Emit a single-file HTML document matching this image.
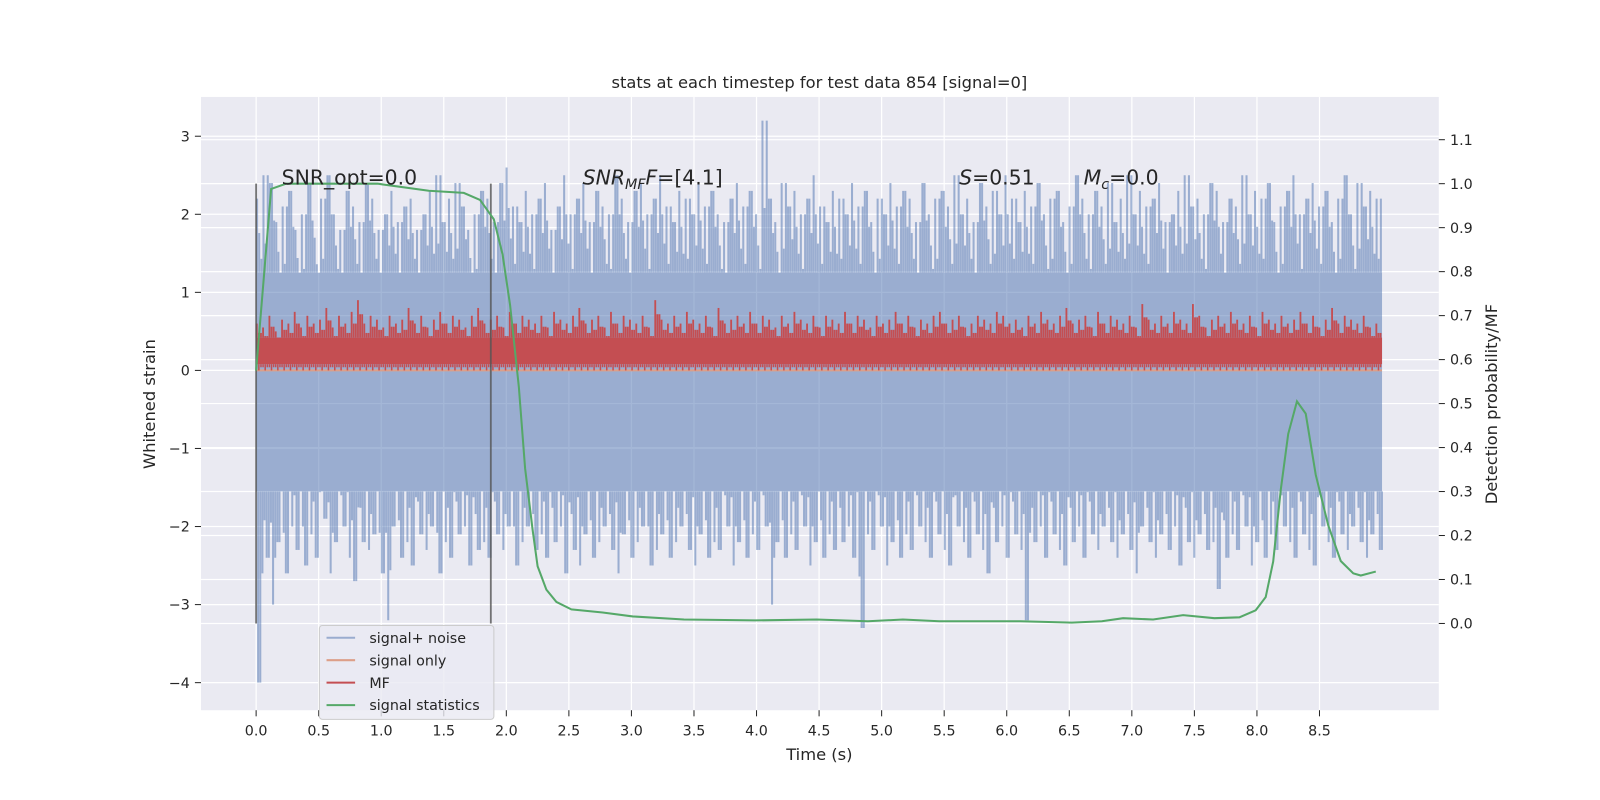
<!DOCTYPE html>
<html><head><meta charset="utf-8"><style>
html,body{margin:0;padding:0;width:100vw;height:100vh;overflow:hidden;background:#fff;font-family:"Liberation Sans","DejaVu Sans",sans-serif}
svg{display:block;position:absolute;left:0;top:0;width:100vw;height:100vh}
svg text{font-family:"DejaVu Sans","Liberation Sans",sans-serif;fill:#262626}
</style></head><body>
<svg id="c" viewBox="0 0 1568 784" preserveAspectRatio="none"></svg>
<script>
const noiseMax=[2.2,2.5,2.4,1.9,2.1,2.3,1.8,2.0,2.4,1.7,2.2,2.5,2.0,1.8,2.3,2.1,1.9,2.4,2.2,1.8,2.0,2.3,1.9,2.1,2.2,1.8,2.0,2.3,2.5,1.9,2.2,2.4,2.1,1.8,2.0,2.3,2.2,1.9,2.4,2.6,2.1,1.9,2.3,2.0,2.2,2.4,1.8,2.1,2.5,2.0,2.2,2.4,1.9,2.3,2.1,2.0,2.5,2.2,1.9,2.3,2.4,2.0,2.2,2.5,2.1,1.9,2.3,2.2,2.0,2.4,2.1,2.3,2.0,1.9,2.2,2.4,2.1,2.3,2.0,3.2,2.2,1.9,2.4,2.1,2.3,2.0,2.2,2.5,2.1,1.9,2.3,2.2,2.0,2.4,2.1,2.3,1.9,2.2,2.0,2.4,2.1,2.3,2.2,1.9,2.4,2.0,2.2,2.3,2.1,2.5,2.0,2.2,1.9,2.4,2.1,2.3,2.0,2.5,2.2,1.9,2.3,2.1,2.4,2.0,2.2,2.3,1.9,2.1,2.5,2.2,2.0,2.3,2.1,2.4,1.9,2.2,2.5,2.0,2.3,2.1,2.2,2.4,1.9,2.0,2.3,2.5,2.1,2.2,2.0,2.4,2.3,1.9,2.2,2.1,2.5,2.0,2.3,2.2,2.4,1.9,2.1,2.3,2.5,2.0,2.2,2.4,2.1,2.3,1.9,2.2,2.5,2.0,2.4,2.1,2.3,2.2];
const noiseMin=[-4.0,-2.4,-3.0,-2.2,-2.6,-2.0,-2.3,-2.5,-2.1,-2.4,-1.9,-2.6,-2.2,-2.0,-2.4,-2.7,-2.2,-2.3,-2.1,-2.6,-3.2,-2.0,-2.4,-2.2,-2.5,-2.1,-2.3,-2.0,-2.6,-2.2,-2.4,-2.1,-2.0,-2.5,-2.3,-2.2,-2.4,-2.1,-2.3,-2.0,-2.5,-2.2,-2.0,-2.3,-2.1,-2.4,-2.2,-2.0,-2.6,-2.3,-2.5,-2.1,-2.4,-2.2,-2.0,-2.3,-2.6,-2.1,-2.4,-2.2,-2.0,-2.5,-2.3,-2.1,-2.4,-2.2,-2.0,-2.3,-2.5,-2.1,-2.4,-2.2,-2.3,-2.0,-2.5,-2.2,-2.4,-2.1,-2.3,-2.0,-3.0,-2.2,-2.4,-2.1,-2.3,-2.0,-2.5,-2.2,-2.4,-2.1,-2.3,-2.2,-2.0,-2.4,-3.3,-2.1,-2.3,-2.0,-2.5,-2.2,-2.4,-2.1,-2.3,-2.0,-2.2,-2.4,-2.1,-2.3,-2.5,-2.0,-2.2,-2.4,-2.1,-2.3,-2.6,-2.2,-2.0,-2.4,-2.1,-2.3,-3.2,-2.2,-2.0,-2.4,-2.1,-2.3,-2.5,-2.2,-2.0,-2.4,-2.1,-2.3,-2.0,-2.2,-2.4,-2.1,-2.3,-2.6,-2.0,-2.2,-2.4,-2.1,-2.3,-2.0,-2.5,-2.2,-2.4,-2.1,-2.3,-2.2,-2.8,-2.4,-2.1,-2.3,-2.0,-2.5,-2.2,-2.4,-2.1,-2.3,-2.0,-2.2,-2.4,-2.1,-2.3,-2.5,-2.0,-2.2,-2.4,-2.1,-2.3,-2.0,-2.2,-2.4,-2.1,-2.3,-2.0,-1.8];
const noiseCoreHi=1.25, noiseCoreLo=-1.55;
const mfMax=[0.6,0.55,0.7,0.5,0.65,0.6,0.75,0.55,0.7,0.6,0.65,0.8,0.55,0.7,0.6,0.75,0.9,0.6,0.7,0.65,0.55,0.7,0.6,0.65,0.8,0.6,0.7,0.55,0.65,0.75,0.6,0.7,0.65,0.55,0.7,0.8,0.6,0.65,0.7,0.55,0.75,0.6,0.7,0.65,0.6,0.7,0.55,0.75,0.65,0.6,0.7,0.8,0.6,0.65,0.7,0.55,0.75,0.6,0.7,0.65,0.6,0.7,0.55,0.9,0.65,0.6,0.7,0.6,0.75,0.65,0.6,0.7,0.55,0.8,0.6,0.65,0.7,0.6,0.75,0.6,0.7,0.65,0.55,0.7,0.6,0.75,0.65,0.6,0.7,0.55,0.7,0.65,0.6,0.75,0.6,0.7,0.65,0.55,0.7,0.6,0.65,0.75,0.6,0.7,0.55,0.65,0.6,0.7,0.75,0.6,0.65,0.7,0.55,0.6,0.7,0.65,0.6,0.75,0.7,0.6,0.65,0.55,0.7,0.6,0.75,0.65,0.6,0.7,0.8,0.6,0.65,0.7,0.55,0.75,0.6,0.7,0.65,0.6,0.7,0.55,0.85,0.65,0.6,0.7,0.6,0.75,0.65,0.6,0.85,0.7,0.55,0.65,0.7,0.6,0.75,0.65,0.6,0.7,0.55,0.75,0.65,0.6,0.7,0.6,0.65,0.75,0.6,0.7,0.55,0.65,0.8,0.6,0.7,0.65,0.6,0.7,0.55,0.6];
const mfCoreHi=0.42, mfCoreLo=0.08;
const statT=[0,0.12,0.24,0.97,1.38,1.66,1.79,1.9,1.97,2.03,2.1,2.15,2.21,2.25,2.32,2.4,2.52,2.77,3.01,3.42,3.99,4.48,4.89,5.17,5.46,6.11,6.52,6.76,6.93,7.17,7.41,7.66,7.86,7.99,8.07,8.13,8.19,8.25,8.32,8.39,8.47,8.57,8.67,8.77,8.83,8.95];
const statP=[0.575,0.988,1.0,1.0,0.984,0.979,0.963,0.919,0.839,0.724,0.538,0.353,0.213,0.130,0.077,0.049,0.032,0.025,0.016,0.009,0.007,0.009,0.005,0.009,0.005,0.005,0.002,0.005,0.012,0.009,0.019,0.012,0.014,0.030,0.060,0.141,0.303,0.431,0.505,0.477,0.338,0.223,0.142,0.114,0.109,0.118];
const xTicks=[0,0.5,1,1.5,2,2.5,3,3.5,4,4.5,5,5.5,6,6.5,7,7.5,8,8.5];
const yTicks=[-4,-3,-2,-1,0,1,2,3];
const y2Ticks=[0,0.1,0.2,0.3,0.4,0.5,0.6,0.7,0.8,0.9,1.0,1.1];
const vLines=[0,1.876];

const NS='http://www.w3.org/2000/svg',svg=document.getElementById('c');
const X=t=>251+t*122.6, Y=v=>363-v*76.5, Y2=p=>611-p*431;
function el(tag,a,parent){const e=document.createElementNS(NS,tag);for(const k in a)e.setAttribute(k,a[k]);(parent||svg).appendChild(e);return e;}
const bg=el('rect',{x:197,y:95,width:1213,height:601,fill:'#eaeaf2'});


const grid=el('g',{stroke:'#fff','stroke-width':1.2});


xTicks.forEach(t=>el('line',{x1:X(t),x2:X(t),y1:95,y2:696},grid));
yTicks.forEach(v=>el('line',{x1:197,x2:1410,y1:Y(v),y2:Y(v)},grid));
y2Ticks.forEach(p=>el('line',{x1:197,x2:1410,y1:Y2(p),y2:Y2(p)},grid));
const ng=el('g',{stroke:'#4c72b0',fill:'#4c72b0',opacity:0.5});


const dt=9/noiseMax.length;
el('rect',{x:X(0),y:Y(noiseCoreHi),width:X(9)-X(0),height:Y(noiseCoreLo)-Y(noiseCoreHi),stroke:'none'},ng);
for(let i=0;i<noiseMax.length;i++){
  for(let k=0;k<3;k++){
    const t=(i+k/3+0.15)*dt, f=[1,0.8,0.65][(i+k)%3];
    el('line',{x1:X(t),x2:X(t),y1:Y(noiseMax[i]*(k==0?1:f)),y2:Y(noiseCoreHi),'stroke-width':2},ng);
    el('line',{x1:X(t+dt/6),x2:X(t+dt/6),y1:Y(noiseMin[i]*(k==1?1:f)),y2:Y(noiseCoreLo),'stroke-width':2},ng);
  }
}
el('line',{x1:X(0),x2:X(9),y1:Y(0),y2:Y(0),stroke:'#dd9f88','stroke-width':2});
const mg=el('g',{stroke:'#c44e52',fill:'#c44e52'});


el('rect',{x:X(0),y:Y(mfCoreHi),width:X(9)-X(0),height:Y(mfCoreLo)-Y(mfCoreHi),stroke:'none'},mg);
const dm=9/mfMax.length;
for(let i=0;i<mfMax.length;i++){
  for(let k=0;k<3;k++){
    const t=(i+k/3+0.1)*dm;
    el('line',{x1:X(t),x2:X(t),y1:Y(k==0?mfMax[i]:mfMax[i]*0.8),y2:Y(mfCoreHi),'stroke-width':1.8},mg);
    el('line',{x1:X(t),x2:X(t),y1:Y(mfCoreLo),y2:Y(k==1?0.0:0.04),'stroke-width':1.5},mg);
  }
}
vLines.forEach(t=>{const l=el('line',{x1:X(t),x2:X(t),y1:180,y2:611,stroke:'#555','stroke-width':1.8,opacity:0.8});

});
const sp=el('polyline',{points:statT.map((t,i)=>X(t)+','+Y2(statP[i])).join(' '),fill:'none',stroke:'#55a868','stroke-width':2});


const tg=el('g',{'font-size':14});


xTicks.forEach(t=>{el('line',{x1:X(t),x2:X(t),y1:696,y2:702,stroke:'#262626'},tg);const e=el('text',{x:X(t),y:721,'text-anchor':'middle'},tg);e.textContent=t.toFixed(1);});
yTicks.forEach(v=>{el('line',{x1:191,x2:197,y1:Y(v),y2:Y(v),stroke:'#262626'},tg);const e=el('text',{x:186,y:Y(v)+5,'text-anchor':'end'},tg);e.textContent=v<0?'\u2212'+(-v):v;});
y2Ticks.forEach(p=>{el('line',{x1:1410,x2:1416,y1:Y2(p),y2:Y2(p),stroke:'#262626'},tg);const e=el('text',{x:1421,y:Y2(p)+5},tg);e.textContent=p.toFixed(1);});
</script>
<svg viewBox="0 0 1568 784" preserveAspectRatio="none">
<text x="803" y="86" text-anchor="middle" font-size="16">stats at each timestep for test data 854 [signal=0]</text>
<text x="803" y="745" text-anchor="middle" font-size="16">Time (s)</text>
<text transform="translate(152,396) rotate(-90)" text-anchor="middle" font-size="16">Whitened strain</text>
<text transform="translate(1467,396) rotate(-90)" text-anchor="middle" font-size="16">Detection probability/MF</text>
<text x="276" y="181" font-size="20">SNR_opt=0.0</text>
<text x="571" y="181" font-size="20"><tspan font-style="italic">SNR</tspan><tspan font-size="14" dy="4" font-style="italic">MF</tspan><tspan dy="-4" font-style="italic">F</tspan>=[4.1]</text>
<text x="940" y="181" font-size="20"><tspan font-style="italic">S</tspan>=0.51</text>
<text x="1062" y="181" font-size="20"><tspan font-style="italic">M</tspan><tspan font-size="14" dy="4" font-style="italic">c</tspan><tspan dy="-4">=0.0</tspan></text>
<g font-size="14">
<rect x="313" y="613" width="171" height="92" rx="3" fill="#eaeaf2" fill-opacity="0.8" stroke="#ccc"/>
<line x1="320" x2="348" y1="625" y2="625" stroke="#9aaccf" stroke-width="2"/><text x="362" y="630">signal+ noise</text>
<line x1="320" x2="348" y1="647" y2="647" stroke="#dd9f88" stroke-width="2"/><text x="362" y="652">signal only</text>
<line x1="320" x2="348" y1="669" y2="669" stroke="#c44e52" stroke-width="2"/><text x="362" y="674">MF</text>
<line x1="320" x2="348" y1="691" y2="691" stroke="#55a868" stroke-width="2"/><text x="362" y="696">signal statistics</text>
</g>
</svg>
</body></html>
